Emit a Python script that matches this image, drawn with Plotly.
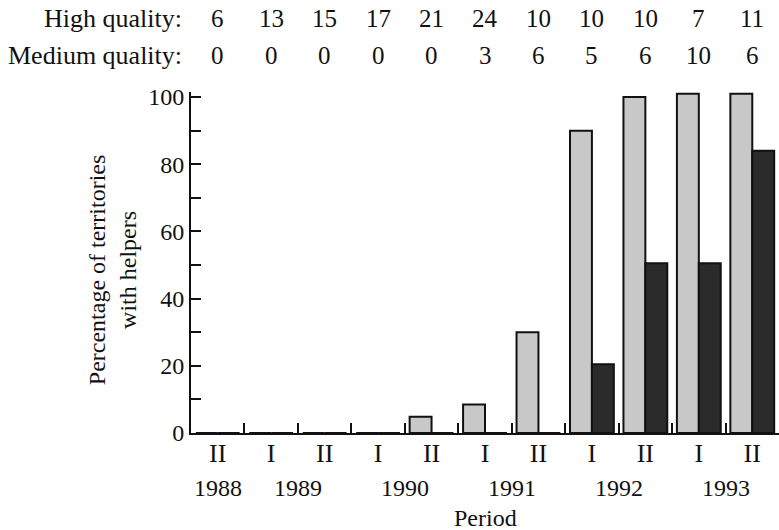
import plotly.graph_objects as go

periods = ["II", "I", "II", "I", "II", "I", "II", "I", "II", "I", "II"]
years = ["1988", "1989", "1990", "1991", "1992", "1993"]
year_pos = [0, 1.5, 3.5, 5.5, 7.5, 9.5]
high_n = [6, 13, 15, 17, 21, 24, 10, 10, 10, 7, 11]
medium_n = [0, 0, 0, 0, 0, 3, 6, 5, 6, 10, 6]
high_pct = [0, 0, 0, 0, 4.8, 8.5, 30, 90, 100, 101, 101]
medium_pct = [0, 0, 0, 0, 0, 0, 0, 20.5, 50.5, 50.5, 84]

x = list(range(len(periods)))
FONT = "Liberation Serif"
INK = "#111111"

fig = go.Figure()
fig.add_bar(x=x, y=high_pct, name="High quality",
            marker=dict(color="#c8c8c8", line=dict(color=INK, width=2)))
fig.add_bar(x=x, y=medium_pct, name="Medium quality",
            marker=dict(color="#2b2b2b", line=dict(color=INK, width=2)))

ann = []
ann.append(dict(x=-0.012, y=1.217, xref="paper", yref="paper", text="High quality:",
                xanchor="right", yanchor="middle", showarrow=False, font=dict(size=26)))
ann.append(dict(x=-0.012, y=1.108, xref="paper", yref="paper", text="Medium quality:",
                xanchor="right", yanchor="middle", showarrow=False, font=dict(size=26)))
for i in x:
    ann.append(dict(x=i, y=1.217, xref="x", yref="paper", text=str(high_n[i]),
                    xanchor="center", yanchor="middle", showarrow=False, font=dict(size=25)))
    ann.append(dict(x=i, y=1.108, xref="x", yref="paper", text=str(medium_n[i]),
                    xanchor="center", yanchor="middle", showarrow=False, font=dict(size=25)))
for yr, p in zip(years, year_pos):
    ann.append(dict(x=p, y=-0.161, xref="x", yref="paper", text=yr,
                    xanchor="center", yanchor="middle", showarrow=False, font=dict(size=24)))
ann.append(dict(x=0.5, y=-0.249, xref="paper", yref="paper", text="Period",
                xanchor="center", yanchor="middle", showarrow=False, font=dict(size=24)))
ann.append(dict(x=-0.134, y=0.478, xref="paper", yref="paper",
                text="Percentage of territories<br>with helpers", textangle=-90,
                xanchor="center", yanchor="middle", showarrow=False, font=dict(size=24)))

fig.update_layout(
    width=779, height=530,
    margin=dict(l=191, r=0, t=92, b=97),
    paper_bgcolor="white", plot_bgcolor="white",
    font=dict(family=FONT, color=INK),
    barmode="group", bargap=0.18, bargroupgap=0,
    showlegend=False,
    annotations=ann,
    xaxis=dict(range=[-0.5, 10.5], tickmode="array", tickvals=x, ticktext=periods,
               ticks="", showline=True, linecolor=INK, linewidth=2, automargin=False,
               showgrid=False, zeroline=False, tickfont=dict(size=26),
               ticklabelstandoff=-4,
               minor=dict(tickvals=[i + 0.5 for i in x[:-1]], ticks="inside",
                          ticklen=10, tickwidth=2, tickcolor=INK, showgrid=False)),
    yaxis=dict(range=[0, 101.5], tickmode="array", tickvals=[0, 20, 40, 60, 80, 100],
               ticks="inside", ticklen=10, tickwidth=2, tickcolor=INK, automargin=False,
               showline=True, linecolor=INK, linewidth=2, showgrid=False, zeroline=False,
               tickfont=dict(size=24),
               minor=dict(tickvals=[10, 30, 50, 70, 90], ticks="inside", ticklen=10,
                          tickwidth=2, tickcolor=INK, showgrid=False)),
)

fig.write_html("out.html", config={"displayModeBar": False},
               post_script="document.body.style.margin='0px';")
